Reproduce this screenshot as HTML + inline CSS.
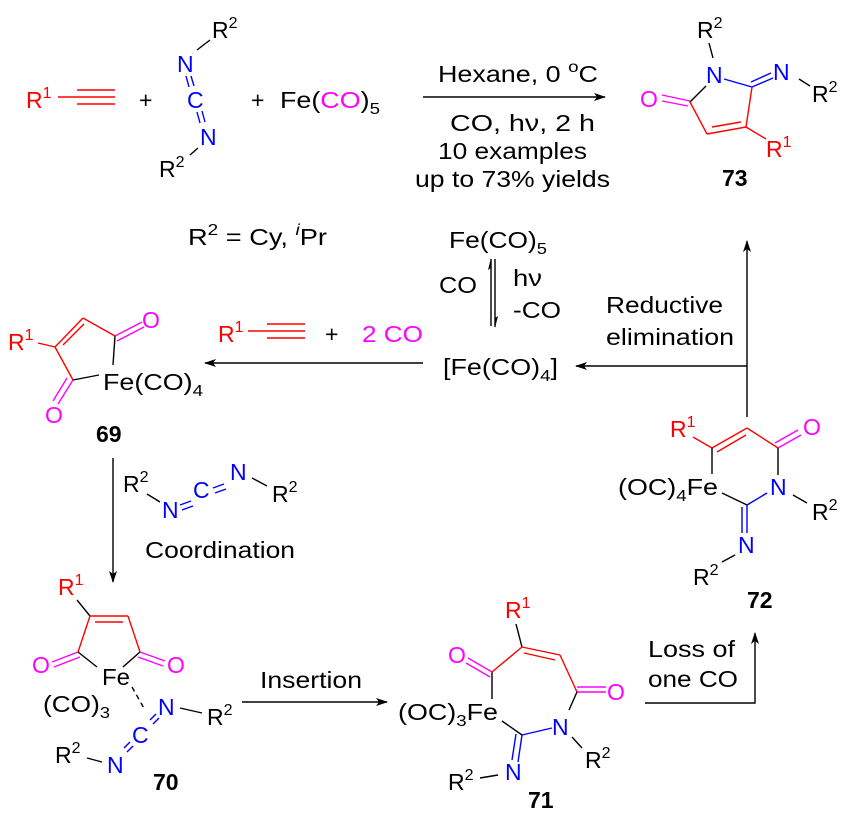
<!DOCTYPE html>
<html><head><meta charset="utf-8"><style>
html,body{margin:0;padding:0;background:#fff}
svg{display:block}
text{font-family:"Liberation Sans",Arial,sans-serif;font-size:23px;fill:#000}
.s{font-size:16px}
.r{fill:#ff0000}.m{fill:#ff00ff}.b{fill:#0000ff}
.bd{font-weight:bold}
line,polyline{stroke-width:1.4;fill:none}
</style></head><body>
<svg width="850" height="825" viewBox="0 0 850 825" xmlns="http://www.w3.org/2000/svg">
<defs>
<marker id="ah" markerWidth="12" markerHeight="8" refX="11" refY="4" orient="auto" markerUnits="userSpaceOnUse">
<path d="M0,0 L12,4 L0,8 L3,4 Z" fill="#000"/></marker>
</defs>

<!-- top reactants -->
<text x="26" y="108" class="r">R<tspan class="s" dy="-10">1</tspan></text>
<g stroke="#ff0000"><line x1="58" y1="97" x2="115" y2="97"/><line x1="77" y1="90" x2="115" y2="90"/><line x1="77" y1="104" x2="115" y2="104"/></g>
<text x="139" y="108">+</text>
<text x="212" y="38">R<tspan class="s" dy="-10">2</tspan></text>
<line x1="197" y1="50" x2="210" y2="40" stroke="#000"/>
<text x="177" y="72" class="b">N</text>
<g stroke="#0000ff"><line x1="186" y1="76" x2="189" y2="87"/><line x1="191" y1="76" x2="194" y2="86"/>
<line x1="197" y1="112" x2="200" y2="123"/><line x1="202" y1="111" x2="205" y2="122"/></g>
<text x="187" y="108" class="b">C</text>
<text x="200" y="145" class="b">N</text>
<line x1="190" y1="155" x2="198" y2="148" stroke="#000"/>
<text x="159" y="177">R<tspan class="s" dy="-10">2</tspan></text>
<text x="251" y="108">+</text>
<text x="280" y="108" textLength="100" lengthAdjust="spacingAndGlyphs">Fe(<tspan class="m">CO</tspan>)<tspan class="s" dy="6">5</tspan></text>
<text x="188" y="245" textLength="139" lengthAdjust="spacingAndGlyphs">R<tspan class="s" dy="-10">2</tspan><tspan dy="10"> = Cy, </tspan><tspan class="s" dy="-10" font-style="italic">i</tspan><tspan dy="10">Pr</tspan></text>

<!-- top arrow -->
<line x1="423" y1="97" x2="605" y2="97" stroke="#000" marker-end="url(#ah)"/>
<text x="438" y="82" textLength="160" lengthAdjust="spacingAndGlyphs">Hexane, 0 <tspan class="s" dy="-10">o</tspan><tspan dy="10">C</tspan></text>
<text x="450" y="131" textLength="145" lengthAdjust="spacingAndGlyphs">CO, hν, 2 h</text>
<text x="438" y="159" textLength="149" lengthAdjust="spacingAndGlyphs">10 examples</text>
<text x="415" y="187" textLength="195" lengthAdjust="spacingAndGlyphs">up to 73% yields</text>

<!-- 73 -->
<text x="697" y="38">R<tspan class="s" dy="-10">2</tspan></text>
<line x1="709" y1="43" x2="713" y2="58" stroke="#000"/>
<text x="706" y="83" class="b">N</text>
<text x="640" y="107" class="m">O</text>
<g stroke="#ff00ff"><line x1="662" y1="95" x2="690" y2="101"/><line x1="662" y1="101" x2="688" y2="106"/></g>
<line x1="690" y1="102" x2="706" y2="86" stroke="#000"/>
<line x1="724" y1="79" x2="752" y2="87" stroke="#0000ff"/>
<g stroke="#ff0000"><line x1="752" y1="87" x2="746" y2="127"/><line x1="746" y1="127" x2="707" y2="134"/><line x1="741" y1="122" x2="712" y2="127"/><line x1="707" y1="134" x2="690" y2="102"/></g>
<g stroke="#0000ff"><line x1="752" y1="87" x2="773" y2="78"/><line x1="751" y1="82" x2="771" y2="73"/></g>
<text x="773" y="80" class="b">N</text>
<line x1="799" y1="79" x2="810" y2="86" stroke="#000"/>
<text x="812" y="102">R<tspan class="s" dy="-10">2</tspan></text>
<line x1="746" y1="127" x2="766" y2="139" stroke="#ff0000"/>
<text x="766" y="157" class="r">R<tspan class="s" dy="-10">1</tspan></text>
<text x="722" y="186" class="bd">73</text>

<!-- center Fe(CO)5 equilibrium -->
<text x="449" y="248" textLength="98" lengthAdjust="spacingAndGlyphs">Fe(CO)<tspan class="s" dy="6">5</tspan></text>
<line x1="491" y1="326" x2="491" y2="259" stroke="#000"/>
<path d="M491,258 L488,270 L491,268 Z" fill="#000"/>
<line x1="495" y1="259" x2="495" y2="327" stroke="#000"/>
<path d="M495,328 L498,316 L495,318 Z" fill="#000"/>
<text x="439" y="293" textLength="38" lengthAdjust="spacingAndGlyphs">CO</text>
<text x="513" y="286" textLength="29" lengthAdjust="spacingAndGlyphs">hν</text>
<text x="513" y="318" textLength="48" lengthAdjust="spacingAndGlyphs">-CO</text>
<text x="443" y="375" textLength="115" lengthAdjust="spacingAndGlyphs">[Fe(CO)<tspan class="s" dy="6">4</tspan><tspan dy="-6">]</tspan></text>
<text x="606" y="313" textLength="117" lengthAdjust="spacingAndGlyphs">Reductive</text>
<text x="606" y="345" textLength="128" lengthAdjust="spacingAndGlyphs">elimination</text>
<line x1="747" y1="417" x2="747" y2="241" stroke="#000" marker-end="url(#ah)"/>
<line x1="747" y1="366" x2="576" y2="366" stroke="#000" marker-end="url(#ah)"/>

<!-- left arrow to 69 -->
<line x1="423" y1="363" x2="205" y2="363" stroke="#000" marker-end="url(#ah)"/>
<text x="218" y="342" class="r">R<tspan class="s" dy="-10">1</tspan></text>
<g stroke="#ff0000"><line x1="248" y1="331" x2="305" y2="331"/><line x1="267" y1="324" x2="305" y2="324"/><line x1="267" y1="338" x2="305" y2="338"/></g>
<text x="325" y="342">+</text>
<text x="362" y="342" class="m" textLength="61" lengthAdjust="spacingAndGlyphs">2 CO</text>

<!-- 69 -->
<text x="8" y="350" class="r">R<tspan class="s" dy="-10">1</tspan></text>
<g stroke="#ff0000"><line x1="38" y1="343" x2="55" y2="347"/><line x1="55" y1="347" x2="83" y2="318"/><line x1="63" y1="345" x2="84" y2="324"/><line x1="83" y1="318" x2="115" y2="336"/><line x1="55" y1="347" x2="73" y2="380"/></g>
<line x1="115" y1="336" x2="113" y2="365" stroke="#000"/>
<line x1="73" y1="380" x2="99" y2="375" stroke="#000"/>
<g stroke="#ff00ff"><line x1="115" y1="336" x2="142" y2="322"/><line x1="117" y1="341" x2="144" y2="327"/><line x1="73" y1="380" x2="58" y2="404"/><line x1="67" y1="378" x2="53" y2="401"/></g>
<text x="142" y="328" class="m">O</text>
<text x="45" y="423" class="m">O</text>
<text x="103" y="390" textLength="100" lengthAdjust="spacingAndGlyphs">Fe(CO)<tspan class="s" dy="6">4</tspan></text>
<text x="96" y="442" class="bd">69</text>

<!-- down arrow -->
<line x1="113" y1="458" x2="113" y2="582" stroke="#000" marker-end="url(#ah)"/>
<text x="123" y="492">R<tspan class="s" dy="-10">2</tspan></text>
<line x1="147" y1="494" x2="160" y2="502" stroke="#000"/>
<text x="162" y="518" class="b">N</text>
<g stroke="#0000ff"><line x1="180" y1="505" x2="191" y2="501"/><line x1="182" y1="510" x2="193" y2="506"/><line x1="213" y1="488" x2="224" y2="484"/><line x1="215" y1="493" x2="226" y2="489"/></g>
<text x="193" y="498" class="b">C</text>
<text x="230" y="480" class="b">N</text>
<line x1="252" y1="478" x2="267" y2="486" stroke="#000"/>
<text x="272" y="502">R<tspan class="s" dy="-10">2</tspan></text>
<text x="145" y="558" textLength="150" lengthAdjust="spacingAndGlyphs">Coordination</text>

<!-- 70 -->
<text x="58" y="595" class="r">R<tspan class="s" dy="-10">1</tspan></text>
<line x1="77" y1="600" x2="90" y2="616" stroke="#000"/>
<g stroke="#ff0000"><line x1="90" y1="616" x2="128" y2="616"/><line x1="95" y1="622" x2="123" y2="622"/><line x1="128" y1="616" x2="140" y2="652"/><line x1="90" y1="616" x2="78" y2="652"/></g>
<line x1="78" y1="652" x2="97" y2="667" stroke="#000"/>
<line x1="140" y1="652" x2="123" y2="667" stroke="#000"/>
<g stroke="#ff00ff"><line x1="78" y1="652" x2="52" y2="662"/><line x1="80" y1="657" x2="54" y2="667"/><line x1="140" y1="652" x2="165" y2="661"/><line x1="138" y1="657" x2="163" y2="666"/></g>
<text x="32" y="673" class="m">O</text>
<text x="167" y="673" class="m">O</text>
<text x="102" y="685" textLength="28" lengthAdjust="spacingAndGlyphs">Fe</text>
<text x="43" y="712" textLength="67" lengthAdjust="spacingAndGlyphs">(CO)<tspan class="s" dy="6">3</tspan></text>
<line x1="132" y1="687" x2="145" y2="710" stroke="#000" stroke-dasharray="5,4"/>
<text x="158" y="715" class="b">N</text>
<line x1="180" y1="708" x2="202" y2="713" stroke="#000"/>
<text x="207" y="725">R<tspan class="s" dy="-10">2</tspan></text>
<g stroke="#0000ff"><line x1="150" y1="720" x2="156" y2="714"/><line x1="153" y1="724" x2="159" y2="718"/><line x1="124" y1="748" x2="130" y2="742"/><line x1="127" y1="752" x2="133" y2="746"/></g>
<text x="132" y="743" class="b">C</text>
<text x="107" y="773" class="b">N</text>
<line x1="87" y1="758" x2="102" y2="762" stroke="#000"/>
<text x="55" y="763">R<tspan class="s" dy="-10">2</tspan></text>
<text x="153" y="790" class="bd">70</text>

<!-- insertion -->
<line x1="242" y1="702" x2="387" y2="702" stroke="#000" marker-end="url(#ah)"/>
<text x="260" y="688" textLength="102" lengthAdjust="spacingAndGlyphs">Insertion</text>

<!-- 71 -->
<text x="398" y="720" textLength="100" lengthAdjust="spacingAndGlyphs">(OC)<tspan class="s" dy="6">3</tspan><tspan dy="-6">Fe</tspan></text>
<text x="505" y="618" class="r">R<tspan class="s" dy="-10">1</tspan></text>
<line x1="522" y1="647" x2="516" y2="624" stroke="#000"/>
<line x1="492" y1="699" x2="492" y2="672" stroke="#000"/>
<g stroke="#ff00ff"><line x1="492" y1="672" x2="468" y2="658"/><line x1="490" y1="677" x2="466" y2="663"/><line x1="577" y1="692" x2="606" y2="692"/><line x1="577" y1="687" x2="606" y2="687"/></g>
<text x="448" y="663" class="m">O</text>
<text x="607" y="700" class="m">O</text>
<g stroke="#ff0000"><line x1="492" y1="672" x2="522" y2="647"/><line x1="522" y1="647" x2="560" y2="655"/><line x1="524" y1="653" x2="555" y2="660"/><line x1="560" y1="655" x2="577" y2="692"/></g>
<line x1="577" y1="692" x2="569" y2="710" stroke="#000"/>
<text x="552" y="735" class="b">N</text>
<line x1="552" y1="728" x2="522" y2="735" stroke="#0000ff"/>
<line x1="522" y1="735" x2="502" y2="721" stroke="#000"/>
<g stroke="#0000ff"><line x1="522" y1="735" x2="518" y2="762"/><line x1="516" y1="734" x2="512" y2="760"/></g>
<text x="505" y="780" class="b">N</text>
<line x1="498" y1="775" x2="480" y2="778" stroke="#000"/>
<text x="448" y="790">R<tspan class="s" dy="-10">2</tspan></text>
<line x1="572" y1="737" x2="582" y2="748" stroke="#000"/>
<text x="585" y="768">R<tspan class="s" dy="-10">2</tspan></text>
<text x="528" y="808" class="bd">71</text>

<!-- loss of CO -->
<polyline points="645,703 755,703 755,633" stroke="#000" marker-end="url(#ah)"/>
<text x="648" y="657" textLength="87" lengthAdjust="spacingAndGlyphs">Loss of</text>
<text x="648" y="687" textLength="90" lengthAdjust="spacingAndGlyphs">one CO</text>

<!-- 72 -->
<text x="618" y="495" textLength="100" lengthAdjust="spacingAndGlyphs">(OC)<tspan class="s" dy="6">4</tspan><tspan dy="-6">Fe</tspan></text>
<text x="670" y="437" class="r">R<tspan class="s" dy="-10">1</tspan></text>
<g stroke="#ff0000"><line x1="693" y1="437" x2="712" y2="448"/><line x1="712" y1="448" x2="747" y2="428"/><line x1="717" y1="452" x2="746" y2="435"/><line x1="747" y1="428" x2="778" y2="448"/></g>
<line x1="712" y1="448" x2="712" y2="474" stroke="#000"/>
<g stroke="#ff00ff"><line x1="778" y1="448" x2="801" y2="435"/><line x1="775" y1="443" x2="798" y2="430"/></g>
<text x="803" y="435" class="m">O</text>
<line x1="778" y1="448" x2="778" y2="475" stroke="#000"/>
<text x="770" y="495" class="b">N</text>
<line x1="767" y1="493" x2="747" y2="505" stroke="#0000ff"/>
<line x1="747" y1="505" x2="722" y2="493" stroke="#000"/>
<g stroke="#0000ff"><line x1="747" y1="505" x2="747" y2="533"/><line x1="742" y1="507" x2="742" y2="533"/></g>
<text x="738" y="553" class="b">N</text>
<line x1="735" y1="555" x2="722" y2="562" stroke="#000"/>
<text x="693" y="585">R<tspan class="s" dy="-10">2</tspan></text>
<line x1="793" y1="495" x2="807" y2="503" stroke="#000"/>
<text x="812" y="520">R<tspan class="s" dy="-10">2</tspan></text>
<text x="747" y="608" class="bd">72</text>
</svg>
</body></html>
